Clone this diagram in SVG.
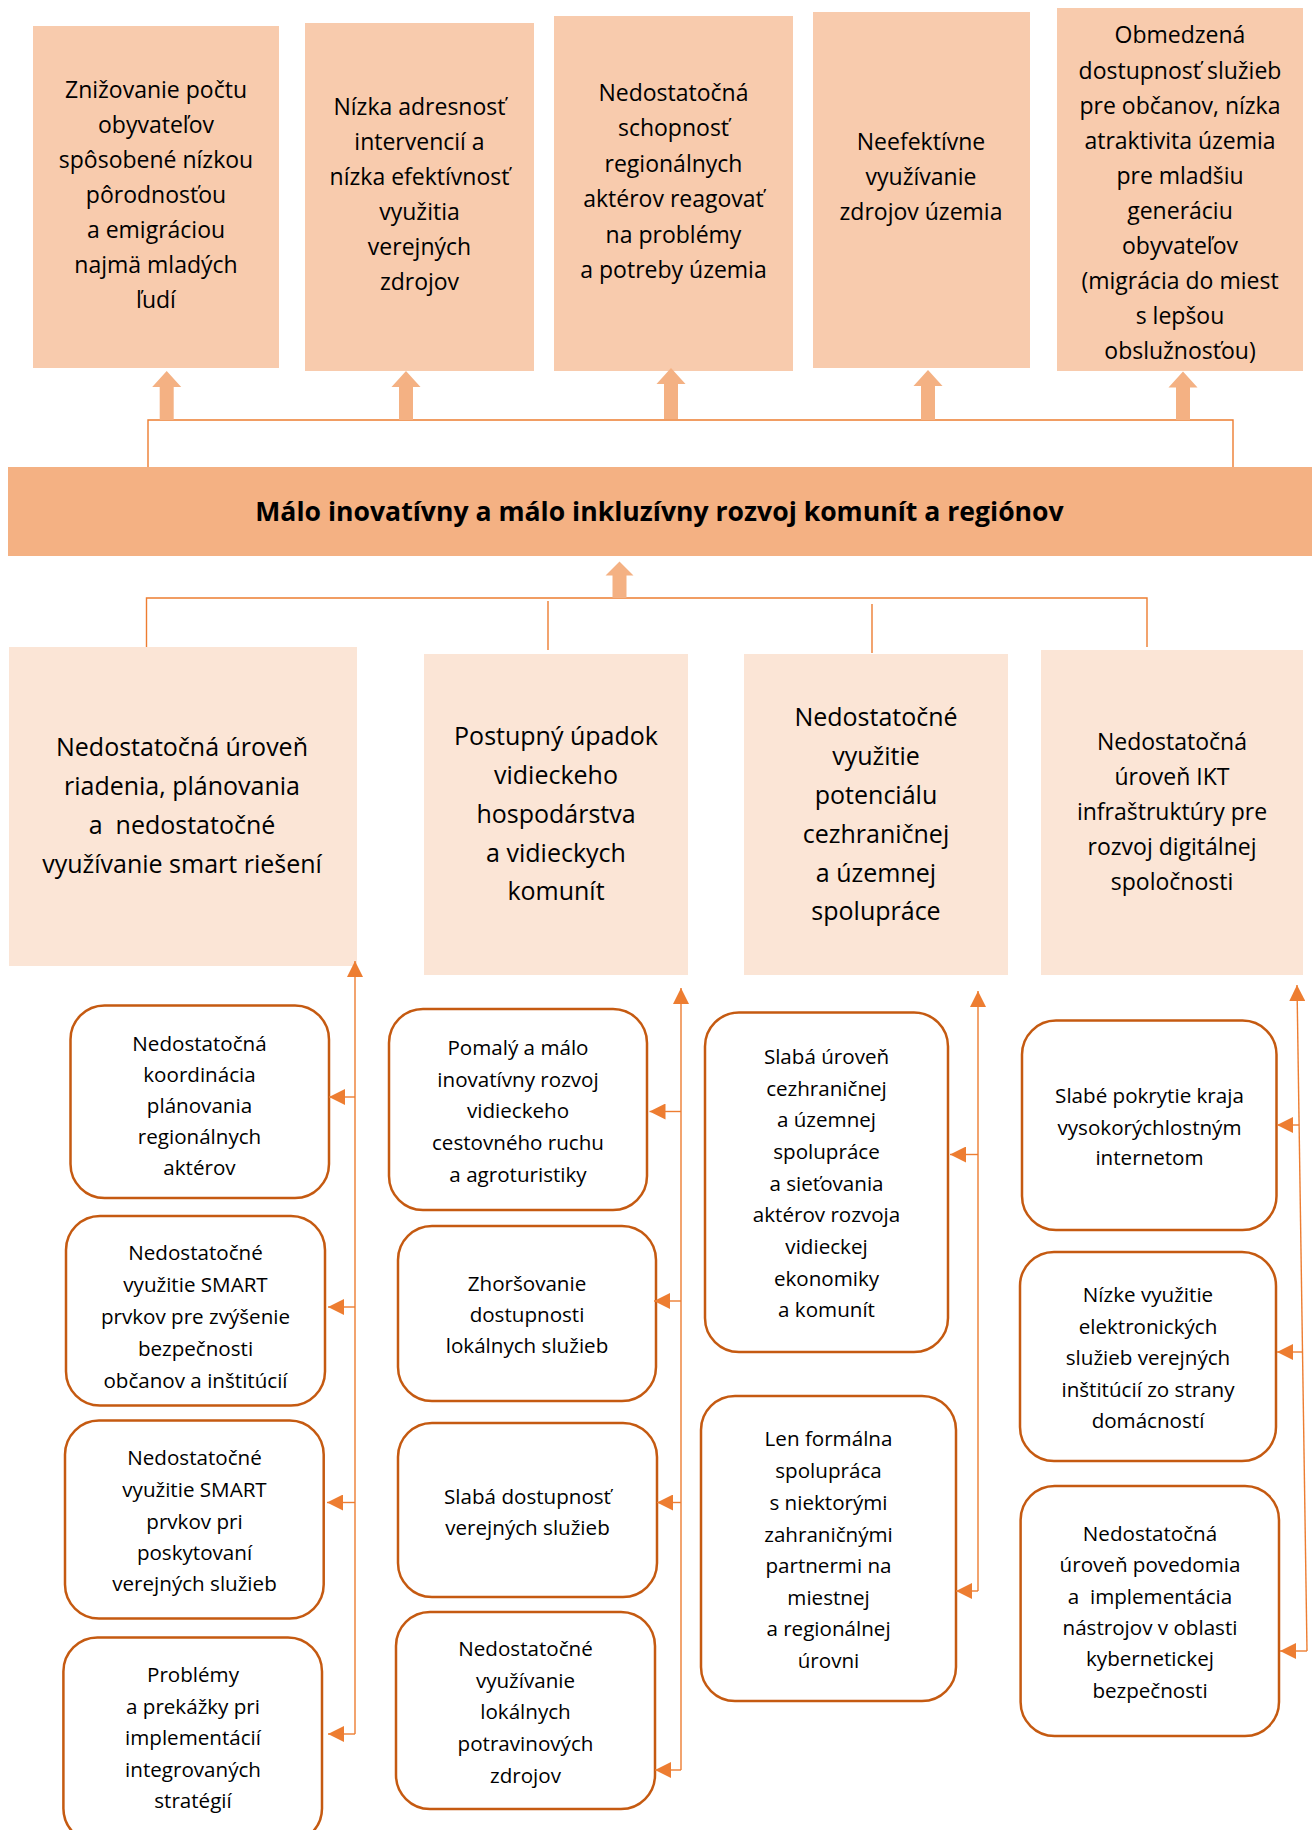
<svg xmlns="http://www.w3.org/2000/svg" width="1312" height="1830" viewBox="0 0 1312 1830">
<style>
.top{fill:#F8CBAD}
.bar{fill:#F4B183}
.mid{fill:#FBE5D6}
.rb{fill:#FFFFFF;stroke:#C55A11;stroke-width:2.5}
.blk{fill:#F4B183}
.ln{stroke:#ED7D31;stroke-width:1.4;fill:none}
text{font-family:"Open Sans","Noto Sans","DejaVu Sans",sans-serif;fill:#000;text-anchor:middle}
.t1{font-size:23px}
.t2{font-size:25px}
.t3{font-size:23px}
.t4{font-size:20.6px}
.ttl{font-size:26.6px;font-weight:bold}
</style>
<defs>
<marker id="ah" markerUnits="userSpaceOnUse" markerWidth="16" markerHeight="16" refX="16" refY="8" orient="auto" viewBox="0 0 16 16">
<path d="M0,0 L16,8 L0,16 z" fill="#ED7D31"/>
</marker>
</defs>

<g id="top1"><rect class="top" x="33" y="26" width="246" height="342"/>
<text class="t1"><tspan x="156" y="98">Znižovanie počtu</tspan><tspan x="156" y="133">obyvateľov</tspan><tspan x="156" y="168">spôsobené nízkou</tspan><tspan x="156" y="203">pôrodnosťou</tspan><tspan x="156" y="238">a emigráciou</tspan><tspan x="156" y="273">najmä mladých</tspan><tspan x="156" y="308">ľudí</tspan></text></g>

<g id="top2"><rect class="top" x="305" y="23" width="229" height="348"/>
<text class="t1"><tspan x="419.5" y="115">Nízka adresnosť</tspan><tspan x="419.5" y="150">intervencií a</tspan><tspan x="419.5" y="185">nízka efektívnosť</tspan><tspan x="419.5" y="220">využitia</tspan><tspan x="419.5" y="255">verejných</tspan><tspan x="419.5" y="290">zdrojov</tspan></text></g>

<g id="top3"><rect class="top" x="554" y="16" width="239" height="355"/>
<text class="t1"><tspan x="673.5" y="101">Nedostatočná</tspan><tspan x="673.5" y="136">schopnosť</tspan><tspan x="673.5" y="171.5">regionálnych</tspan><tspan x="673.5" y="207">aktérov reagovať</tspan><tspan x="673.5" y="242.5">na problémy</tspan><tspan x="673.5" y="278">a potreby územia</tspan></text></g>

<g id="top4"><rect class="top" x="813" y="12" width="217" height="356"/>
<text class="t1"><tspan x="921" y="150">Neefektívne</tspan><tspan x="921" y="185">využívanie</tspan><tspan x="921" y="220">zdrojov územia</tspan></text></g>

<g id="top5"><rect class="top" x="1057" y="8" width="246" height="363"/>
<text class="t1"><tspan x="1180" y="43">Obmedzená</tspan><tspan x="1180" y="78.5">dostupnosť služieb</tspan><tspan x="1180" y="113.5">pre občanov, nízka</tspan><tspan x="1180" y="148.5">atraktivita územia</tspan><tspan x="1180" y="183.5">pre mladšiu</tspan><tspan x="1180" y="218.5">generáciu</tspan><tspan x="1180" y="254">obyvateľov</tspan><tspan x="1180" y="289">(migrácia do miest</tspan><tspan x="1180" y="324">s lepšou</tspan><tspan x="1180" y="359">obslužnosťou)</tspan></text></g>

<g id="core"><rect class="bar" x="8" y="467" width="1304" height="89"/>
<text class="ttl" x="659.5" y="521">Málo inovatívny a málo inkluzívny rozvoj komunít a regiónov</text></g>

<g id="mid1"><rect class="mid" x="9" y="647" width="348" height="319"/>
<text class="t2"><tspan x="182" y="756">Nedostatočná úroveň</tspan><tspan x="182" y="795">riadenia, plánovania</tspan><tspan x="182" y="834" xml:space="preserve">a  nedostatočné</tspan><tspan x="182" y="873">využívanie smart riešení</tspan></text></g>

<g id="mid2"><rect class="mid" x="424" y="654" width="264" height="321"/>
<text class="t2"><tspan x="556" y="745">Postupný úpadok</tspan><tspan x="556" y="784">vidieckeho</tspan><tspan x="556" y="822.5">hospodárstva</tspan><tspan x="556" y="861.5">a vidieckych</tspan><tspan x="556" y="900">komunít</tspan></text></g>

<g id="mid3"><rect class="mid" x="744" y="654" width="264" height="321"/>
<text class="t2"><tspan x="876" y="726">Nedostatočné</tspan><tspan x="876" y="765">využitie</tspan><tspan x="876" y="804">potenciálu</tspan><tspan x="876" y="842.5">cezhraničnej</tspan><tspan x="876" y="881.5">a územnej</tspan><tspan x="876" y="920">spolupráce</tspan></text></g>

<g id="mid4"><rect class="mid" x="1041" y="650" width="262" height="325"/>
<text class="t3"><tspan x="1172" y="750">Nedostatočná</tspan><tspan x="1172" y="785">úroveň IKT</tspan><tspan x="1172" y="820">infraštruktúry pre</tspan><tspan x="1172" y="855">rozvoj digitálnej</tspan><tspan x="1172" y="890">spoločnosti</tspan></text></g>

<g id="r1"><rect class="rb" x="70.5" y="1005.5" width="258.5" height="192.5" rx="34"/>
<text class="t4"><tspan x="199.5" y="1050.5">Nedostatočná</tspan><tspan x="199.5" y="1081.5">koordinácia</tspan><tspan x="199.5" y="1112.5">plánovania</tspan><tspan x="199.5" y="1143.5">regionálnych</tspan><tspan x="199.5" y="1174.5">aktérov</tspan></text></g>

<g id="r2"><rect class="rb" x="66" y="1216" width="259" height="189.5" rx="34"/>
<text class="t4"><tspan x="195.5" y="1260">Nedostatočné</tspan><tspan x="195.5" y="1292">využitie SMART</tspan><tspan x="195.5" y="1324">prvkov pre zvýšenie</tspan><tspan x="195.5" y="1355.5">bezpečnosti</tspan><tspan x="195.5" y="1387.5">občanov a inštitúcií</tspan></text></g>

<g id="r3"><rect class="rb" x="65" y="1420.6" width="258.7" height="198" rx="34"/>
<text class="t4"><tspan x="194.5" y="1465">Nedostatočné</tspan><tspan x="194.5" y="1497">využitie SMART</tspan><tspan x="194.5" y="1528.5">prvkov pri</tspan><tspan x="194.5" y="1560">poskytovaní</tspan><tspan x="194.5" y="1591">verejných služieb</tspan></text></g>

<g id="r4"><rect class="rb" x="63.4" y="1637.5" width="258.6" height="205" rx="34"/>
<text class="t4"><tspan x="193" y="1682">Problémy</tspan><tspan x="193" y="1713.5">a prekážky pri</tspan><tspan x="193" y="1745">implementácií</tspan><tspan x="193" y="1776.5">integrovaných</tspan><tspan x="193" y="1808">stratégií</tspan></text></g>

<g id="r5"><rect class="rb" x="389" y="1009" width="258" height="201" rx="34"/>
<text class="t4"><tspan x="518" y="1055">Pomalý a málo</tspan><tspan x="518" y="1086.5">inovatívny rozvoj</tspan><tspan x="518" y="1118">vidieckeho</tspan><tspan x="518" y="1150">cestovného ruchu</tspan><tspan x="518" y="1181.5">a agroturistiky</tspan></text></g>

<g id="r6"><rect class="rb" x="398" y="1226" width="258" height="175" rx="34"/>
<text class="t4"><tspan x="527" y="1290.5">Zhoršovanie</tspan><tspan x="527" y="1322">dostupnosti</tspan><tspan x="527" y="1353">lokálnych služieb</tspan></text></g>

<g id="r7"><rect class="rb" x="398" y="1423" width="259" height="174" rx="34"/>
<text class="t4"><tspan x="527.5" y="1503.5">Slabá dostupnosť</tspan><tspan x="527.5" y="1535">verejných služieb</tspan></text></g>

<g id="r8"><rect class="rb" x="396" y="1612" width="259" height="197" rx="34"/>
<text class="t4"><tspan x="525.5" y="1656">Nedostatočné</tspan><tspan x="525.5" y="1688">využívanie</tspan><tspan x="525.5" y="1719">lokálnych</tspan><tspan x="525.5" y="1751">potravinových</tspan><tspan x="525.5" y="1783">zdrojov</tspan></text></g>

<g id="r9"><rect class="rb" x="705" y="1012.5" width="243" height="339.5" rx="34"/>
<text class="t4"><tspan x="826.5" y="1064">Slabá úroveň</tspan><tspan x="826.5" y="1095.5">cezhraničnej</tspan><tspan x="826.5" y="1127">a územnej</tspan><tspan x="826.5" y="1159">spolupráce</tspan><tspan x="826.5" y="1190.5">a sieťovania</tspan><tspan x="826.5" y="1222">aktérov rozvoja</tspan><tspan x="826.5" y="1254">vidieckej</tspan><tspan x="826.5" y="1285.5">ekonomiky</tspan><tspan x="826.5" y="1317">a komunít</tspan></text></g>

<g id="r10"><rect class="rb" x="701" y="1396" width="255" height="305" rx="34"/>
<text class="t4"><tspan x="828.5" y="1446">Len formálna</tspan><tspan x="828.5" y="1478">spolupráca</tspan><tspan x="828.5" y="1510">s niektorými</tspan><tspan x="828.5" y="1541.5">zahraničnými</tspan><tspan x="828.5" y="1573">partnermi na</tspan><tspan x="828.5" y="1604.5">miestnej</tspan><tspan x="828.5" y="1636">a regionálnej</tspan><tspan x="828.5" y="1667.5">úrovni</tspan></text></g>

<g id="r11"><rect class="rb" x="1022" y="1020.6" width="254.5" height="209.4" rx="34"/>
<text class="t4"><tspan x="1149.5" y="1103">Slabé pokrytie kraja</tspan><tspan x="1149.5" y="1134.5">vysokorýchlostným</tspan><tspan x="1149.5" y="1165">internetom</tspan></text></g>

<g id="r12"><rect class="rb" x="1020" y="1252" width="256" height="209" rx="34"/>
<text class="t4"><tspan x="1148" y="1302">Nízke využitie</tspan><tspan x="1148" y="1334">elektronických</tspan><tspan x="1148" y="1365">služieb verejných</tspan><tspan x="1148" y="1397">inštitúcií zo strany</tspan><tspan x="1148" y="1428">domácností</tspan></text></g>

<g id="r13"><rect class="rb" x="1020.6" y="1486" width="258.4" height="250" rx="34"/>
<text class="t4"><tspan x="1150" y="1541">Nedostatočná</tspan><tspan x="1150" y="1572">úroveň povedomia</tspan><tspan x="1150" y="1603.5" xml:space="preserve">a  implementácia</tspan><tspan x="1150" y="1635">nástrojov v oblasti</tspan><tspan x="1150" y="1666">kybernetickej</tspan><tspan x="1150" y="1697.5">bezpečnosti</tspan></text></g>

<g id="connectors">
<path class="ln" d="M148,467 V420 H1233 V467"/>
<polygon class="blk" points="166.7,371 181.2,387 173.7,387 173.7,420 159.7,420 159.7,387 152.2,387"/>
<polygon class="blk" points="406,371 420.5,387 413,387 413,420 399,420 399,387 391.5,387"/>
<polygon class="blk" points="671,368 685.5,384 678,384 678,419 664,419 664,384 656.5,384"/>
<polygon class="blk" points="928,370 942.5,386 935,386 935,420 921,420 921,386 913.5,386"/>
<polygon class="blk" points="1183,371.5 1197.5,387.5 1190,387.5 1190,420 1176,420 1176,387.5 1168.5,387.5"/>
<path class="ln" d="M146.5,647 V598 H1147 V647"/>
<path class="ln" d="M548,601 V650"/>
<path class="ln" d="M872,604 V653"/>
<polygon class="blk" points="619.5,561.5 633.5,575.5 626.5,575.5 626.5,598 612.5,598 612.5,575.5 605.5,575.5"/>

<path class="ln" d="M355,1734 V961" marker-end="url(#ah)"/>
<path class="ln" d="M355,1097 H329" marker-end="url(#ah)"/>
<path class="ln" d="M355,1307 H328" marker-end="url(#ah)"/>
<path class="ln" d="M355,1502.5 H327" marker-end="url(#ah)"/>
<path class="ln" d="M355,1734 H328" marker-end="url(#ah)"/>

<path class="ln" d="M681,1770 V988" marker-end="url(#ah)"/>
<path class="ln" d="M681,1111.5 H649.5" marker-end="url(#ah)"/>
<path class="ln" d="M681,1301 H654" marker-end="url(#ah)"/>
<path class="ln" d="M681,1502.5 H657" marker-end="url(#ah)"/>
<path class="ln" d="M681,1770 H655" marker-end="url(#ah)"/>

<path class="ln" d="M978,1591 V991" marker-end="url(#ah)"/>
<path class="ln" d="M978,1154.5 H950" marker-end="url(#ah)"/>
<path class="ln" d="M978,1591 H956" marker-end="url(#ah)"/>

<path class="ln" d="M1307,1651 L1297,985" marker-end="url(#ah)"/>
<path class="ln" d="M1299.1,1125 H1277" marker-end="url(#ah)"/>
<path class="ln" d="M1302.5,1352 H1277" marker-end="url(#ah)"/>
<path class="ln" d="M1307,1651 H1280" marker-end="url(#ah)"/>
</g>
</svg>
